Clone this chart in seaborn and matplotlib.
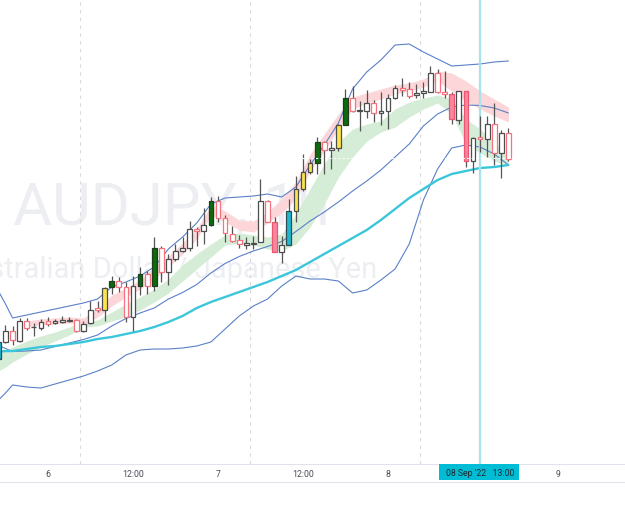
import numpy as np
import pandas as pd
import matplotlib
matplotlib.use('Agg')
import matplotlib.pyplot as plt
from matplotlib.lines import Line2D
from matplotlib.patches import Rectangle
import seaborn as sns

# Velas de 1h, AUDJPY (hora 0 = 6 sep 00:00)
horas = list(range(-7, 66))
apertura = [95.400, 95.570, 95.680, 95.580, 95.780, 95.720, 95.710, 95.780, 95.760, 95.767,
            95.785, 95.790, 95.685, 95.757, 95.907, 95.893, 96.117, 96.183, 96.117, 95.817,
            96.133, 96.250, 96.133, 96.507, 96.267, 96.400, 96.477, 96.507, 96.700, 96.677,
            96.740, 96.983, 96.810, 96.655, 96.590, 96.545, 96.550, 96.573, 96.977, 96.773,
            96.473, 96.543, 96.883, 97.100, 97.267, 97.360, 97.567, 97.493, 97.507, 97.743,
            98.007, 97.885, 97.883, 97.957, 97.860, 97.877, 98.010, 98.107, 98.100, 98.037,
            98.057, 98.073, 98.260, 98.067, 98.050, 97.793, 98.077, 97.377, 97.617, 97.600,
            97.747, 97.457, 97.657]
maximo = [95.580, 95.740, 95.730, 95.810, 95.810, 95.760, 95.800, 95.820, 95.800, 95.830,
          95.823, 95.800, 95.783, 95.983, 95.983, 96.117, 96.233, 96.220, 96.167, 96.233,
          96.317, 96.283, 96.617, 96.533, 96.450, 96.550, 96.617, 96.783, 96.720, 96.907,
          97.017, 97.033, 96.840, 96.730, 96.640, 96.617, 96.627, 97.200, 96.990, 96.817,
          96.633, 97.000, 97.233, 97.450, 97.400, 97.617, 97.583, 97.583, 97.755, 98.100,
          98.133, 97.983, 98.090, 97.993, 98.067, 98.050, 98.140, 98.207, 98.167, 98.150,
          98.173, 98.333, 98.300, 98.283, 98.067, 98.083, 98.083, 97.617, 97.827, 97.827,
          97.957, 97.693, 97.707]
minimo = [95.390, 95.560, 95.540, 95.570, 95.690, 95.630, 95.690, 95.730, 95.750, 95.760,
          95.767, 95.675, 95.673, 95.750, 95.867, 95.783, 96.050, 96.067, 95.767, 95.683,
          96.040, 96.050, 96.077, 96.167, 96.140, 96.383, 96.467, 96.483, 96.533, 96.550,
          96.733, 96.767, 96.567, 96.570, 96.510, 96.500, 96.500, 96.567, 96.767, 96.467,
          96.360, 96.540, 96.767, 97.083, 97.250, 97.250, 97.250, 97.300, 97.483, 97.740,
          97.867, 97.683, 97.807, 97.767, 97.740, 97.700, 98.000, 98.033, 98.007, 98.007,
          98.007, 98.067, 98.060, 98.007, 97.750, 97.750, 97.317, 97.257, 97.467, 97.420,
          97.340, 97.207, 97.380]
cierre = [95.570, 95.680, 95.590, 95.780, 95.710, 95.725, 95.770, 95.755, 95.775, 95.787,
          95.790, 95.685, 95.755, 95.893, 95.893, 96.110, 96.183, 96.117, 95.817, 96.133,
          96.250, 96.133, 96.507, 96.267, 96.400, 96.477, 96.507, 96.700, 96.677, 96.740,
          96.983, 96.810, 96.657, 96.585, 96.550, 96.555, 96.565, 96.977, 96.773, 96.473,
          96.543, 96.883, 97.100, 97.267, 97.360, 97.567, 97.493, 97.513, 97.743, 98.007,
          97.883, 97.890, 97.957, 97.857, 97.883, 98.007, 98.107, 98.093, 98.027, 98.057,
          98.077, 98.260, 98.067, 98.050, 97.800, 98.077, 97.377, 97.610, 97.597, 97.747,
          97.457, 97.657, 97.400]
# tipo de vela segun el indicador de color
tipo = ['C', 'up', 'dn', 'up', 'dn', 'up', 'up', 'dn', 'up', 'up',
        'up', 'dn', 'up', 'up', 'dn', 'Y', 'G', 'dn', 'dn', 'up',
        'G', 'dn', 'G', 'dn', 'up', 'up', 'up', 'up', 'dn', 'up',
        'G', 'dn', 'dn', 'dn', 'dn', 'up', 'up', 'up', 'dn', 'P',
        'up', 'C', 'Y', 'Y', 'Y', 'G', 'dn', 'up', 'Y', 'G',
        'dn', 'up', 'up', 'dn', 'up', 'up', 'up', 'dn', 'dn', 'up',
        'up', 'up', 'dn', 'dn', 'P', 'up', 'P', 'up', 'dn', 'up',
        'dn', 'up', 'dn']

# Indicadores (muestreados cada 2 horas aprox.)
ind_horas = [-7, -6, -5, -3, -1, 1, 3, 5, 7, 9, 11, 13, 15, 17, 19, 21, 23, 25, 27, 29,
             31, 33, 35, 37, 39, 41, 43, 45, 47, 49, 51, 53, 55, 57, 59, 61, 63, 65]
bb_sup = [96.08, 95.95, 95.81, 95.84, 95.87, 95.90, 95.93, 95.96, 96.00, 96.12, 96.17, 96.23, 96.32,
          96.50, 96.62, 96.76, 96.95, 97.01, 97.02, 97.03, 97.05, 97.02, 97.12, 97.34, 97.54, 97.76,
          98.10, 98.27, 98.39, 98.54, 98.55, 98.47, 98.40, 98.33, 98.34, 98.35, 98.37, 98.38]
bb_med = [95.535, 95.505, 95.475, 95.48, 95.49, 95.525, 95.56, 95.595, 95.64, 95.73, 95.805, 95.86,
          95.91, 96.00, 96.065, 96.145, 96.26, 96.355, 96.425, 96.48, 96.525, 96.575, 96.675, 96.78,
          96.87, 96.97, 97.08, 97.18, 97.29, 97.42, 97.55, 97.73, 97.85, 97.92, 97.94, 97.935, 97.91, 97.86]
bb_inf = [94.99, 95.06, 95.14, 95.12, 95.11, 95.15, 95.19, 95.23, 95.28, 95.34, 95.44, 95.49, 95.50,
          95.50, 95.51, 95.53, 95.57, 95.70, 95.83, 95.93, 96.00, 96.13, 96.23, 96.20, 96.20, 96.18,
          96.06, 96.09, 96.19, 96.30, 96.55, 96.99, 97.30, 97.51, 97.54, 97.52, 97.45, 97.34]
media_lenta = [95.47, 95.48, 95.48, 95.50, 95.52, 95.53, 95.55, 95.57, 95.60, 95.62, 95.65, 95.68,
               95.72, 95.77, 95.83, 95.91, 95.97, 96.02, 96.07, 96.12, 96.17, 96.23, 96.29, 96.37,
               96.45, 96.53, 96.61, 96.69, 96.79, 96.90, 97.01, 97.10, 97.19, 97.25, 97.28, 97.31,
               97.32, 97.34]
verde_sup = [95.45, 95.48, 95.52, 95.58, 95.63, 95.67, 95.72, 95.77, 95.79, 95.87, 95.95, 96.02, 96.10,
             96.20, 96.34, 96.45, 96.55, 96.64, 96.66, 96.64, 96.62, 96.65, 96.85, 97.10, 97.35, 97.57,
             97.70, 97.75, 97.78, 97.90, 97.97, 98.01, 98.04, 98.00, 97.80, 97.70, 97.57, 97.42]
verde_inf = [95.28, 95.32, 95.37, 95.45, 95.52, 95.58, 95.64, 95.72, 95.73, 95.78, 95.82, 95.89, 95.97,
             96.06, 96.18, 96.30, 96.42, 96.54, 96.56, 96.54, 96.50, 96.48, 96.55, 96.72, 96.95, 97.22,
             97.42, 97.58, 97.67, 97.72, 97.82, 97.90, 97.96, 97.85, 97.55, 97.46, 97.38, 97.33]
rosa_sup = [np.nan, np.nan, np.nan, 95.78, 95.80, 95.81, 95.82, 95.81, 95.90, 96.04, 96.11, 96.19,
            96.32, 96.43, 96.56, 96.70, 96.94, 96.88, 96.79, 96.78, 96.87, 97.00, 97.17, 97.45, 97.65,
            97.85, 98.02, 98.06, 98.10, 98.14, 98.16, 98.20, 98.28, 98.26, 98.18, 98.08, 98.00, 97.92]
rosa_inf = [np.nan, np.nan, np.nan, 95.72, 95.74, 95.75, 95.76, 95.74, 95.82, 95.93, 96.02, 96.10,
            96.20, 96.32, 96.45, 96.60, 96.84, 96.77, 96.69, 96.67, 96.76, 96.86, 97.00, 97.28, 97.48,
            97.70, 97.90, 97.96, 98.00, 98.05, 98.08, 98.12, 98.18, 98.08, 97.98, 97.90, 97.83, 97.77]

sesiones = [4.5, 28.5, 52.5]
ticks_x = [0, 12, 24, 36, 48, 72]
etiquetas_x = ['6', '12:00', '7', '12:00', '8', '9']
hora_cursor = 61
precio_cursor = 97.41
etiqueta_cursor = "08 Sep '22   13:00"

df_velas = pd.DataFrame({'hora': horas, 'open': apertura, 'high': maximo,
                         'low': minimo, 'close': cierre, 'tipo': tipo})
df_ind = pd.DataFrame({'hora': ind_horas, 'bb_sup': bb_sup, 'bb_med': bb_med, 'bb_inf': bb_inf,
                       'lenta': media_lenta})

sns.set_theme(style='white')
plt.rcParams['font.family'] = ['Roboto', 'DejaVu Sans']

fig = plt.figure(figsize=(6.25, 5.06), dpi=100)
ax = fig.add_axes([0, 41 / 506, 1, 465 / 506])
ax.set_xlim(-6.776, 81.46)
ax.set_ylim(94.35, 99.0)

# Marca de agua
ax.text(0.274, 0.518, 'AUDJPY, 1h', transform=ax.transAxes, ha='center', va='baseline',
        fontsize=43, color='#eceef2', zorder=0)
ax.text(0.265, 0.402, 'Australian Dollar / Japanese Yen', transform=ax.transAxes, ha='center',
        va='baseline', fontsize=21, color='#eceef2', zorder=0)

# Lineas de sesion
for xs in sesiones:
    ax.axvline(xs, color='#d9d9d9', ls=(0, (3, 4)), lw=0.8, zorder=0.5)

# Bandas de medias
ax.fill_between(ind_horas, verde_inf, verde_sup, color='#d5ecd6', lw=0, zorder=1)
ax.fill_between(ind_horas, rosa_inf, rosa_sup, color='#fcd6d8', lw=0, zorder=1)

# Bollinger y media lenta
for col in ['bb_sup', 'bb_med', 'bb_inf']:
    sns.lineplot(data=df_ind, x='hora', y=col, ax=ax, color='#5a80c8', lw=0.8, zorder=2)
sns.lineplot(data=df_ind, x='hora', y='lenta', ax=ax, color='#3cc6da', lw=1.7, zorder=2.5)

# Cursor
ax.axvline(hora_cursor, color='#a8e2ec', lw=1.6, zorder=3)

# Velas
estilos = {
    'up': ('white', '#4d4d4d'),
    'dn': ('white', '#f4737f'),
    'G': ('#0d6b0d', '#1f3d1f'),
    'Y': ('#fbe64a', '#4d4d4d'),
    'C': ('#23b6cc', '#2d4d55'),
    'P': ('#f5879f', '#ef5470'),
}
for _, v in df_velas.iterrows():
    ax.vlines(v['hora'], v['low'], v['high'], color='#555555', lw=0.9, zorder=4)
    cara, borde = estilos[v['tipo']]
    alto = max(abs(v['close'] - v['open']), 0.004)
    ax.bar(v['hora'], alto, bottom=min(v['open'], v['close']), width=0.68,
           facecolor=cara, edgecolor=borde, lw=0.9, zorder=5)

ax.axhline(precio_cursor, color='white', ls=(0, (2, 2)), lw=0.8, zorder=6)

# Ejes
ax.set_xlabel('')
ax.set_ylabel('')
ax.set_yticks([])
ax.set_xticks(ticks_x)
ax.set_xticklabels(etiquetas_x)
ax.tick_params(axis='x', length=0, pad=3.5, labelsize=6.3, labelcolor='#4a4d57')
for s in ['top', 'left', 'right']:
    ax.spines[s].set_visible(False)
ax.spines['bottom'].set_color('#e0e3eb')
ax.spines['bottom'].set_linewidth(0.8)
fig.add_artist(Line2D([0, 1], [23 / 506, 23 / 506], color='#e0e3eb', lw=0.8))

# Etiqueta del cursor
trans = ax.get_xaxis_transform()
ax.add_patch(Rectangle((55.2, -16 / 465), 11.3, 16 / 465, transform=trans, facecolor='#00bcd4',
                       edgecolor='none', clip_on=False, zorder=7))
ax.text(61.0, -9 / 465, etiqueta_cursor, transform=trans, ha='center', va='center',
        fontsize=6.3, color='#1e2a30', zorder=8, clip_on=False)

fig.savefig('out.png', dpi=100)
